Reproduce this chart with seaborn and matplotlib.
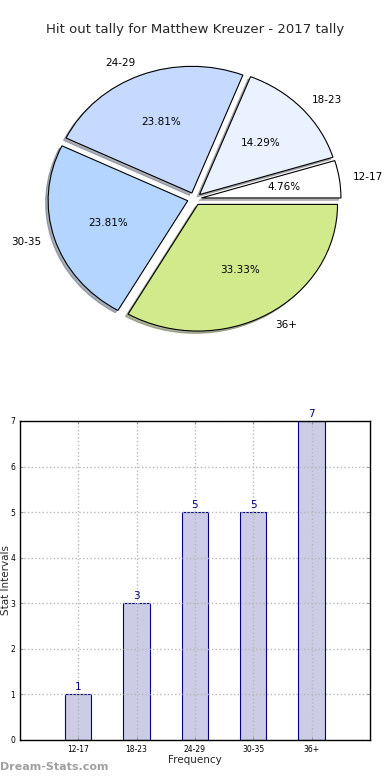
import matplotlib
matplotlib.use("Agg")
import matplotlib.pyplot as plt
import seaborn as sns
import pandas as pd

# data
intervals = ['12-17', '18-23', '24-29', '30-35', '36+']
counts = [1, 3, 5, 5, 7]
pie_colors = ['#ffffff', '#eaf1ff', '#c6d9ff', '#b3d5ff', '#d0ea8c']
title = 'Hit out tally for Matthew Kreuzer - 2017 tally'

sns.set_theme(style='white')
plt.rcParams['font.family'] = ['DejaVu Sans']

fig = plt.figure(figsize=(3.9, 7.8), dpi=100)

# pie
ax1 = fig.add_axes([0.051, 0.542, 0.895, 0.406])
ax1.pie(counts, labels=intervals, colors=pie_colors, explode=[0.05] * 5,
        autopct='%.2f%%', startangle=0, counterclock=True,
        shadow={'ox': -0.013, 'oy': -0.013, 'shade': 0.55},
        wedgeprops={'edgecolor': 'black', 'linewidth': 0.8},
        textprops={'fontsize': 7.5, 'color': 'black'})
ax1.set_aspect('auto')
ax1.set_xlim(-1.25, 1.25)
ax1.set_ylim(-1.25, 1.25)
fig.text(0.5, 0.962, title, ha='center', va='center', fontsize=9.5)

# bars
ax2 = fig.add_axes([0.0513, 0.0513, 0.897, 0.409])
df = pd.DataFrame({'interval': intervals, 'count': counts})
sns.barplot(data=df, x='interval', y='count', ax=ax2, width=0.45,
            color=(0.8, 0.8, 0.9), edgecolor='navy', linewidth=0.8,
            saturation=1)
for i, v in enumerate(counts):
    ax2.text(i, v + 0.05, str(v), ha='center', va='bottom',
             color='navy', fontsize=7.5)
ax2.set_xlim(-1, 5)
ax2.set_ylim(0, 7)
ax2.set_yticks(range(8))
ax2.grid(True, linestyle=':', color='#b8b8b8', linewidth=1)
ax2.set_axisbelow(False)
for s in ax2.spines.values():
    s.set_color('black')
    s.set_linewidth(1)
    s.set_zorder(5)
ax2.tick_params(direction='in', labelsize=5.5, length=2.5, width=0.6,
                top=True, right=True, bottom=True, left=True,
                color='#888888', labelcolor='black')
ax2.set_xlabel('Frequency', fontsize=7.5, labelpad=1)
ax2.set_ylabel('Stat Intervals', fontsize=7.5, labelpad=1)
ax2.yaxis.set_label_coords(-0.027, 0.5)

fig.text(0.0, 0.01, 'Dream-Stats.com', color='#a0a0a0', fontsize=8,
         fontweight='bold', ha='left', va='bottom')

fig.savefig('out.png', dpi=100)
